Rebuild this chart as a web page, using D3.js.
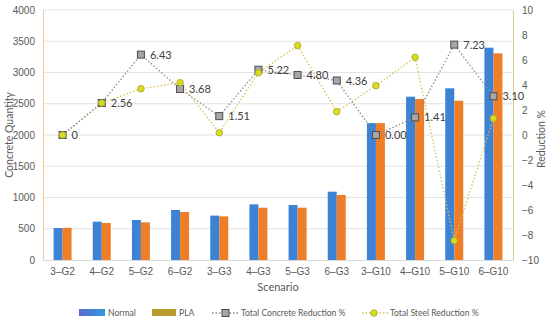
<!DOCTYPE html>
<html>
<head>
<meta charset="utf-8">
<script src="https://cdn.jsdelivr.net/npm/d3@7"></script>
<style>
  body { margin: 0; background: #fff; }
  svg { font-family: Lato, "Open Sans", sans-serif; }
  .tick text { fill: #595959; font-size: 10px; }
</style>
</head>
<body>
<div id="chart"></div>
<script>
// chart data
let scenarios = ["3–G2", "4–G2", "5–G2", "6–G2", "3–G3", "4–G3", "5–G3", "6–G3", "3–G10", "4–G10", "5–G10", "6–G10"];
let normalQty = [512, 613, 640, 800, 710, 890, 880, 1093, 2190, 2613, 2747, 3397];
let plaQty = [515, 592, 603, 768, 698, 837, 837, 1040, 2190, 2576, 2549, 3307];
let concreteRed = [0, 2.56, 6.43, 3.68, 1.51, 5.22, 4.80, 4.36, 0.00, 1.41, 7.23, 3.10];
let concreteLbl = ["0", "2.56", "6.43", "3.68", "1.51", "5.22", "4.80", "4.36", "0.00", "1.41", "7.23", "3.10"];
let steelRed = [0, 2.56, 3.7, 4.18, 0.18, 4.98, 7.15, 1.87, 3.95, 6.21, -8.45, 1.33];
let leftTicks = [0, 500, 1000, 1500, 2000, 2500, 3000, 3500, 4000];
let rightTicks = [-10, -8, -6, -4, -2, 0, 2, 4, 6, 8, 10];

let margin = { top: 10, left: 43, right: 37, bottom: 62 };
let W = 550, H = 322;
let width = W - margin.left - margin.right,
    height = H - margin.top - margin.bottom;

let svg = d3.select("#chart").append("svg")
    .attr("width", W).attr("height", H);

let defs = svg.append("defs");
let gN = defs.append("linearGradient").attr("id", "legN");
gN.append("stop").attr("offset", "0%").attr("stop-color", "#5b68cf");
gN.append("stop").attr("offset", "100%").attr("stop-color", "#2f9be0");

let g = svg.append("g")
    .attr("transform", "translate(" + margin.left + "," + margin.top + ")");

// scales
let x = d3.scaleBand().domain(scenarios).range([0, width]);
let xi = d3.scaleBand().domain(["n", "p"]).range([x.bandwidth() / 2 - 9, x.bandwidth() / 2 + 9]);
let y = d3.scaleLinear().domain([0, 4000]).range([height, 0]);
let y2 = d3.scaleLinear().domain([-10, 10]).range([height, 0]);

// gridlines
g.selectAll(".grid").data(leftTicks.slice(1))
    .enter().append("line")
    .attr("x1", 0).attr("x2", width)
    .attr("y1", d => y(d)).attr("y2", d => y(d))
    .attr("stroke", "#e3e3e3").attr("stroke-width", 1);

// left axis
let yAxis = g.append("g")
    .call(d3.axisLeft(y).tickValues(leftTicks).tickFormat(d3.format("d")).tickSize(0).tickPadding(8));
yAxis.select(".domain").attr("stroke", "#f0c9a0");

// right axis
let yAxis2 = g.append("g")
    .attr("transform", "translate(" + width + ",0)")
    .call(d3.axisRight(y2).tickValues(rightTicks).tickFormat(d3.format("d")).tickSize(0).tickPadding(9));
yAxis2.select(".domain").attr("stroke", "#d9cc8e");

// x axis
let xAxis = g.append("g")
    .attr("transform", "translate(0," + height + ")")
    .call(d3.axisBottom(x).tickSize(0).tickPadding(8));
xAxis.select(".domain").attr("stroke", "#d9d9d9");
xAxis.selectAll("text").style("font-size", "10px");

// bars
g.selectAll(".barN").data(normalQty)
    .enter().append("rect")
    .attr("class", "barN")
    .attr("x", (d, i) => x(scenarios[i]) + xi("n"))
    .attr("width", xi.bandwidth())
    .attr("y", d => y(d))
    .attr("height", d => height - y(d))
    .attr("fill", "#3c82d5");

g.selectAll(".barP").data(plaQty)
    .enter().append("rect")
    .attr("class", "barP")
    .attr("x", (d, i) => x(scenarios[i]) + xi("p"))
    .attr("width", xi.bandwidth())
    .attr("y", d => y(d))
    .attr("height", d => height - y(d))
    .attr("fill", "#f07d28");

let cx = (d, i) => x(scenarios[i]) + x.bandwidth() / 2;

// steel reduction line
let steelLine = d3.line().x((d, i) => cx(d, i)).y(d => y2(d));
g.append("path").datum(steelRed)
    .attr("d", steelLine)
    .attr("fill", "none")
    .attr("stroke", "#d6c25a")
    .attr("stroke-width", 1.3)
    .attr("stroke-dasharray", "1.5,2");

// concrete reduction line
let concLine = d3.line().x((d, i) => cx(d, i)).y(d => y2(d));
g.append("path").datum(concreteRed)
    .attr("d", concLine)
    .attr("fill", "none")
    .attr("stroke", "#8c8c8c")
    .attr("stroke-width", 1.3)
    .attr("stroke-dasharray", "1.5,2");

// concrete markers
g.selectAll(".sq").data(concreteRed)
    .enter().append("rect")
    .attr("x", (d, i) => cx(d, i) - 3.5)
    .attr("y", d => y2(d) - 3.5)
    .attr("width", 7).attr("height", 7)
    .attr("fill", "#a6a6a6")
    .attr("stroke", "#4d4d4d")
    .attr("stroke-width", 1);

// steel markers
g.selectAll(".dot").data(steelRed)
    .enter().append("circle")
    .attr("cx", (d, i) => cx(d, i))
    .attr("cy", d => y2(d))
    .attr("r", 3.3)
    .attr("fill", "#d7dc1e")
    .attr("stroke", "#aaa52a")
    .attr("stroke-width", 0.8);

// concrete labels
g.selectAll(".lbl").data(concreteRed)
    .enter().append("text")
    .attr("x", (d, i) => cx(d, i) + 9)
    .attr("y", d => y2(d) + 4)
    .attr("fill", "#404040")
    .style("font-size", "11px")
    .text((d, i) => concreteLbl[i]);

// axis titles
svg.append("text")
    .attr("transform", "translate(13,135) rotate(-90)")
    .attr("text-anchor", "middle")
    .attr("fill", "#595959")
    .style("font-size", "10.5px")
    .text("Concrete Quantity");

svg.append("text")
    .attr("transform", "translate(545,139) rotate(-90)")
    .attr("text-anchor", "middle")
    .attr("fill", "#595959")
    .style("font-size", "10.5px")
    .text("Reduction %");

svg.append("text")
    .attr("x", margin.left + width / 2)
    .attr("y", 291)
    .attr("text-anchor", "middle")
    .attr("fill", "#595959")
    .style("font-size", "11px")
    .text("Scenario");

// legend
let leg = svg.append("g").attr("transform", "translate(0,313)");
leg.append("rect").attr("x", 79).attr("y", -4).attr("width", 26).attr("height", 7).attr("fill", "url(#legN)");
leg.append("text").attr("x", 108).attr("y", 3).text("Normal");
leg.append("rect").attr("x", 152).attr("y", -4).attr("width", 24).attr("height", 7).attr("fill", "#b89c2e");
leg.append("text").attr("x", 179).attr("y", 3).text("PLA");
leg.append("line").attr("x1", 212).attr("x2", 239).attr("y1", 0).attr("y2", 0)
    .attr("stroke", "#8c8c8c").attr("stroke-width", 1.3).attr("stroke-dasharray", "1.5,2");
leg.append("rect").attr("x", 222).attr("y", -3.5).attr("width", 7).attr("height", 7)
    .attr("fill", "#a6a6a6").attr("stroke", "#4d4d4d");
leg.append("text").attr("x", 241).attr("y", 3).text("Total Concrete Reduction %");
leg.append("line").attr("x1", 362).attr("x2", 388).attr("y1", 0).attr("y2", 0)
    .attr("stroke", "#d6c25a").attr("stroke-width", 1.3).attr("stroke-dasharray", "1.5,2");
leg.append("circle").attr("cx", 374).attr("cy", 0).attr("r", 3.3)
    .attr("fill", "#d7dc1e").attr("stroke", "#aaa52a").attr("stroke-width", 0.8);
leg.append("text").attr("x", 390).attr("y", 3).text("Total Steel Reduction %");
leg.selectAll("text").attr("fill", "#595959").style("font-size", "8.6px");
</script>
</body>
</html>
